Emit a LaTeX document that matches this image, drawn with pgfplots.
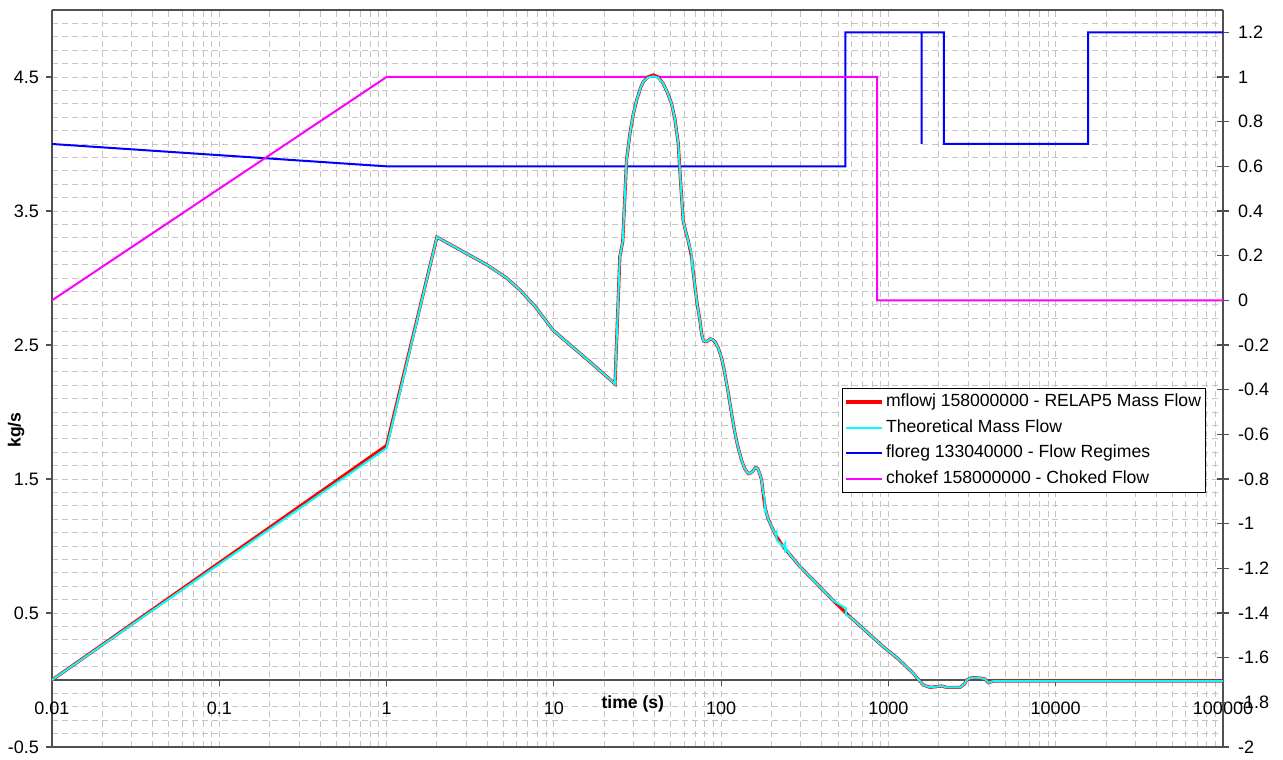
\documentclass[border=0pt]{standalone}
\usepackage{fontspec}
\setmainfont{Liberation Sans}
\usepackage{pgfplots}
\pgfplotsset{compat=1.18}
\definecolor{axgray}{HTML}{505050}
\definecolor{gridgray}{HTML}{C4C4C4}
\definecolor{cRed}{RGB}{255,0,0}
\definecolor{cCyan}{RGB}{0,255,255}
\definecolor{cBlue}{RGB}{0,0,255}
\definecolor{cMag}{RGB}{255,0,255}
\begin{document}
\begin{tikzpicture}
\useasboundingbox (-26bp,-6.5bp) rectangle (615.5bp,373.5bp);
% Axis A: grid, left axis, x axis at y=0
\begin{axis}[
  width=585.5bp, height=368.5bp, scale only axis,
  xmode=log, xmin=0.01, xmax=100000,
  ymin=-0.5, ymax=5,
  tick label style={font=\fontsize{9bp}{11bp}\selectfont},
  axis line style={-, axgray, line width=0.6bp},
  tick style={axgray, line width=0.6bp},
  minor tick length=0pt,
  axis x line=middle, axis y line=left,
  every inner x axis line/.append style={-},
  every outer y axis line/.append style={-},
  hide obscured x ticks=false,
  xtick={0.01,0.1,1,10,100,1000,10000,100000},
  xticklabels={0.01,0.1,1,10,100,1000,10000,100000},
  ytick={-0.5,0.5,1.5,2.5,3.5,4.5},
  yticklabels={-0.5,0.5,1.5,2.5,3.5,4.5},
  minor ytick={-0.4,-0.3,...,5},
  grid=both,
  grid style={dash pattern=on 3bp off 2bp, gridgray, line width=0.5bp},
  minor grid style={dash pattern=on 3bp off 2bp, gridgray, line width=0.5bp},
  tick align=outside,
  major tick length=3bp,
  xticklabel style={anchor=north, yshift=-4.5bp},
  xlabel={time (s)},
  xlabel style={at={(axis description cs:0.496,0.058)}, anchor=center, font=\fontsize{8.8bp}{10bp}\selectfont\bfseries},
  ylabel={kg/s},
  ylabel style={at={(axis description cs:-0.0307,0.43)}, anchor=center, font=\fontsize{8.8bp}{10bp}\selectfont\bfseries},
]
\addplot[draw=none] coordinates {(1,0)};
\end{axis}
% Axis B: right axis
\begin{axis}[
  width=585.5bp, height=368.5bp, scale only axis,
  xmode=log, xmin=0.01, xmax=100000,
  ymin=-2, ymax=1.3,
  tick label style={font=\fontsize{9bp}{11bp}\selectfont},
  axis line style={-, axgray, line width=0.6bp},
  tick style={axgray, line width=0.6bp},
  minor tick length=0pt,
  axis y line*=right, axis x line*=box,
  xtick=\empty, xminorticks=false,
  ytick={-2,-1.8,-1.6,-1.4,-1.2,-1,-0.8,-0.6,-0.4,-0.2,0,0.2,0.4,0.6,0.8,1,1.2},
  yticklabels={-2,-1.8,-1.6,-1.4,-1.2,-1,-0.8,-0.6,-0.4,-0.2,0,0.2,0.4,0.6,0.8,1,1.2},
  tick align=center, major tick length=6bp,
  yticklabel style={anchor=west, xshift=1bp},
]
\addplot[cBlue, line width=1bp] coordinates {
(0.01,0.7) (1,0.6) (553,0.6) (553,1.2) (1578,1.2) (1578,0.7) (1578,1.2)
(2148,1.2) (2148,0.7) (15630,0.7) (15630,1.2) (100000,1.2)};
\addplot[cMag, line width=1bp] coordinates {
(0.01,0) (1,1) (857,1) (857,0) (100000,0)};
\end{axis}
% Axis C: mass flows + legend
\begin{axis}[
  width=585.5bp, height=368.5bp, scale only axis,
  xmode=log, xmin=0.01, xmax=100000,
  ymin=-0.5, ymax=5, hide axis,
  legend style={at={(axis description cs:0.9855,0.487)}, anchor=north east,
    draw=black, line width=0.6bp, fill=white,
    font=\fontsize{8.8bp}{10bp}\selectfont,
    inner xsep=1bp, inner ysep=0.3bp, row sep=0bp,
    nodes={text height=6.4bp, text depth=1.8bp, inner ysep=2.3bp, inner xsep=1.2bp}},
  legend cell align=left,
  legend image code/.code={\draw[#1] (0bp,0bp) -- (18bp,0bp);},
]
\addplot[cRed, line width=1.6bp] coordinates {
(0.01,0) (1,1.75) (2,3.305) (3.96,3.10) (5.22,3.0) (6.27,2.91) (7.7,2.79) (9.9,2.61)
(12.8,2.49) (16.4,2.375) (23.2,2.21) (24.8,3.16) (25.8,3.27) (27.2,3.88)
(28.5,4.08) (29.8,4.22) (31.3,4.33) (33,4.42) (34.3,4.465) (36.5,4.50) (39.3,4.515)
(42,4.50) (45.1,4.45) (47.5,4.39) (50.6,4.30) (53,4.18)
(55.4,4.005) (57,3.75) (59.3,3.43) (61,3.36) (63.5,3.28) (66.5,3.16) (68,3.05)
(70,2.92) (72,2.80) (74.6,2.687) (76.5,2.58)
(78.5,2.53) (82,2.525) (86,2.545) (89,2.54) (91.8,2.525) (96,2.48) (100.7,2.40)
(104,2.32) (110.4,2.14) (115,2.0) (121,1.84) (126,1.74)
(132.5,1.64) (138,1.58) (145.2,1.54) (150,1.545) (155,1.56) (160,1.585) (165,1.58)
(170,1.54) (174.6,1.49) (178,1.40) (182.8,1.29) (190,1.21)
(200.4,1.144) (212,1.08) (235,0.995) (260,0.93) (296,0.846) (372,0.72) (470,0.59)
(589,0.472) (740,0.36) (932,0.248) (1150,0.155) (1406,0.05) (1520,0.0)
(1614,-0.037) (1770,-0.055) (2080,-0.045) (2228,-0.055) (2675,-0.055)
(2850,-0.03) (2932,0) (3100,0.015) (3289,0.017) (3550,0.014) (3776,0.007) (3954,-0.02) (4236,-0.008) (100000,-0.008)};
\addlegendentry{mflowj 158000000 - RELAP5 Mass Flow}
\addplot[cCyan, line width=1bp] coordinates {
(0.01,0) (1,1.73) (2,3.305) (3.96,3.10) (5.22,3.0) (6.27,2.91) (7.7,2.79) (9.9,2.61)
(12.8,2.49) (16.4,2.375) (23.2,2.21) (24.8,3.16) (25.8,3.27) (27.2,3.88)
(28.5,4.08) (29.8,4.22) (31.3,4.33) (33,4.42) (34.3,4.465) (36.5,4.495) (39.3,4.505)
(42,4.495) (45.1,4.45) (47.5,4.39) (50.6,4.30) (53,4.18)
(55.4,4.005) (57,3.75) (59.3,3.43) (61,3.36) (63.5,3.28) (66.5,3.18) (66.6,3.08) (66.7,3.16) (68,3.05)
(70,2.92) (72,2.80) (74.6,2.687) (76.5,2.58)
(78.5,2.53) (82,2.525) (86,2.545) (89,2.54) (91.8,2.525) (96,2.48) (100.7,2.40)
(104,2.32) (110.4,2.14) (115,2.0) (121,1.84) (126,1.74)
(132.5,1.64) (138,1.58) (145.2,1.54) (150,1.545) (155,1.56) (160,1.585) (165,1.58)
(170,1.54) (174.6,1.49) (178,1.40) (182,1.36) (182.5,1.25) (182.8,1.29) (190,1.21)
(200.4,1.144) (212,1.08) (214,1.095) (214.5,1.045) (235,0.995) (241,1.02) (241.5,0.95) (242,0.985)
(260,0.93) (296,0.846) (372,0.72) (470,0.59) (556,0.537) (556.5,0.485)
(589,0.472) (740,0.36) (932,0.248) (1150,0.155) (1406,0.05) (1520,0.0)
(1614,-0.037) (1770,-0.055) (2080,-0.045) (2228,-0.055) (2675,-0.055)
(2850,-0.03) (2932,0) (3100,0.015) (3289,0.017) (3550,0.014) (3776,0.007) (3954,-0.02) (4236,-0.008) (100000,-0.008)};
\addlegendentry{Theoretical Mass Flow}
\addlegendimage{cBlue, line width=1bp}
\addlegendentry{floreg 133040000 - Flow Regimes}
\addlegendimage{cMag, line width=1bp}
\addlegendentry{chokef 158000000 - Choked Flow}
\end{axis}
\end{tikzpicture}
\end{document}
